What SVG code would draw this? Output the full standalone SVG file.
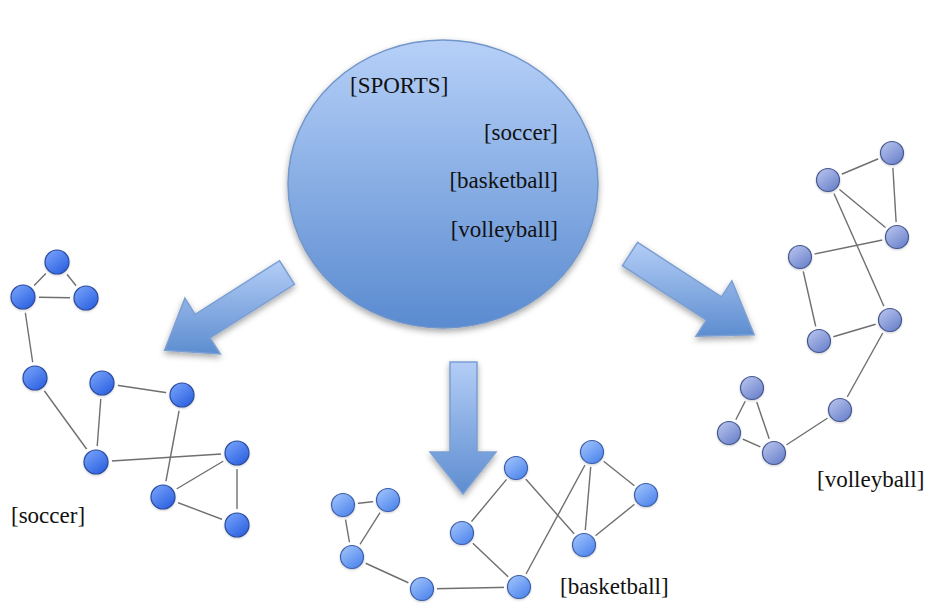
<svg xmlns="http://www.w3.org/2000/svg" width="928" height="603" viewBox="0 0 928 603">
  <defs>
    <linearGradient id="bigFill" x1="0" y1="0" x2="0" y2="1">
      <stop offset="0" stop-color="#b6d0f8"/>
      <stop offset="1" stop-color="#5a8bd0"/>
    </linearGradient>
    <linearGradient id="arrowFill" x1="0" y1="0" x2="0" y2="1">
      <stop offset="0" stop-color="#b3cdf6"/>
      <stop offset="1" stop-color="#5d8dd0"/>
    </linearGradient>
    <linearGradient id="soccerFill" x1="0.2" y1="0.1" x2="0.85" y2="0.95">
      <stop offset="0" stop-color="#6f9cf8"/>
      <stop offset="1" stop-color="#2c60e0"/>
    </linearGradient>
    <linearGradient id="basketFill" x1="0.2" y1="0.1" x2="0.85" y2="0.95">
      <stop offset="0" stop-color="#98bdfa"/>
      <stop offset="1" stop-color="#4d84ec"/>
    </linearGradient>
    <linearGradient id="volleyFill" x1="0.2" y1="0.1" x2="0.85" y2="0.95">
      <stop offset="0" stop-color="#b0bdea"/>
      <stop offset="1" stop-color="#6a82cb"/>
    </linearGradient>
    <filter id="shadow" x="-20%" y="-20%" width="140%" height="150%">
      <feDropShadow dx="0" dy="3" stdDeviation="3" flood-color="#000" flood-opacity="0.35"/>
    </filter>
    <filter id="nodeShadow" x="-30%" y="-30%" width="160%" height="160%">
      <feDropShadow dx="0" dy="1" stdDeviation="1" flood-color="#000" flood-opacity="0.2"/>
    </filter>
  </defs>
  <style>
    .label { font-family: 'Liberation Serif', 'Times New Roman', Times, 'DejaVu Serif', serif; font-size: 23px; fill: #111; }
    .arrow { fill: url(#arrowFill); stroke: #7b9fd3; stroke-width: 1.5; filter: url(#shadow); }
    .edge { stroke: #6f6f6f; stroke-width: 1.4; fill: none; }
    .halo { fill: #fff; }
    .soccer { fill: url(#soccerFill); stroke: #2b4c9e; stroke-width: 1.2; filter: url(#nodeShadow); }
    .basket { fill: url(#basketFill); stroke: #3d5fa8; stroke-width: 1.2; filter: url(#nodeShadow); }
    .volley { fill: url(#volleyFill); stroke: #46588f; stroke-width: 1.2; filter: url(#nodeShadow); }
  </style>

  <rect width="928" height="603" fill="#fff"/>

  <!-- central topic circle -->
  <g id="sports">
    <ellipse cx="443" cy="184" rx="155" ry="144" fill="url(#bigFill)" stroke="#7396c9" stroke-width="1.5" filter="url(#shadow)"/>
    <g class="label">
      <text x="350" y="93">[SPORTS]</text>
      <text x="558" y="140" text-anchor="end">[soccer]</text>
      <text x="558" y="188" text-anchor="end">[basketball]</text>
      <text x="558" y="237" text-anchor="end">[volleyball]</text>
    </g>
  </g>

  <!-- block arrows -->
  <g id="arrows">
    <polygon id="arrow-left" class="arrow" points="279.5,260.7 294.5,284.3 210.1,337.9 220.3,354 164.6,350.2 184.9,298.2 195.1,314.3"/>
    <polygon id="arrow-down" class="arrow" points="450,362 477,362 477,452 496,452 463,494 430,452 450,452"/>
    <polygon id="arrow-right" class="arrow" points="637.6,242.3 721.5,296.8 731.9,280.8 754.2,334.7 695.9,336.2 706.3,320.2 622.4,265.7"/>
  </g>

  <!-- connectors -->
  <g id="connectors" class="edge">
    <!-- soccer -->
    <line x1="57" y1="262" x2="23" y2="297"/>
    <line x1="57" y1="262" x2="86" y2="298"/>
    <line x1="23" y1="297" x2="86" y2="298"/>
    <line x1="23" y1="297" x2="35" y2="378"/>
    <line x1="35" y1="378" x2="96" y2="462"/>
    <line x1="102" y1="383" x2="96" y2="462"/>
    <line x1="102" y1="383" x2="182" y2="395"/>
    <line x1="182" y1="395" x2="163" y2="497"/>
    <line x1="96" y1="462" x2="237" y2="453"/>
    <line x1="237" y1="453" x2="163" y2="497"/>
    <line x1="237" y1="453" x2="237" y2="525"/>
    <line x1="163" y1="497" x2="237" y2="525"/>
    <!-- basketball -->
    <line x1="343" y1="505" x2="388" y2="500"/>
    <line x1="343" y1="505" x2="352" y2="557"/>
    <line x1="388" y1="500" x2="352" y2="557"/>
    <line x1="352" y1="557" x2="422" y2="589"/>
    <line x1="422" y1="589" x2="519" y2="587"/>
    <line x1="519" y1="587" x2="462" y2="533"/>
    <line x1="462" y1="533" x2="516" y2="468"/>
    <line x1="516" y1="468" x2="584" y2="545"/>
    <line x1="519" y1="587" x2="592" y2="452"/>
    <line x1="592" y1="452" x2="584" y2="545"/>
    <line x1="592" y1="452" x2="646" y2="495"/>
    <line x1="646" y1="495" x2="584" y2="545"/>
    <!-- volleyball -->
    <line x1="828" y1="180" x2="892" y2="153"/>
    <line x1="892" y1="153" x2="897" y2="237"/>
    <line x1="828" y1="180" x2="897" y2="237"/>
    <line x1="828" y1="180" x2="890" y2="320"/>
    <line x1="800" y1="257" x2="897" y2="237"/>
    <line x1="800" y1="257" x2="819" y2="341"/>
    <line x1="819" y1="341" x2="890" y2="320"/>
    <line x1="890" y1="320" x2="840" y2="410"/>
    <line x1="840" y1="410" x2="774" y2="453"/>
    <line x1="752" y1="388" x2="729" y2="433"/>
    <line x1="752" y1="388" x2="774" y2="453"/>
    <line x1="729" y1="433" x2="774" y2="453"/>
  </g>

  <!-- soccer nodes -->
  <g id="s1"><circle class="halo" cx="57" cy="262" r="16"/><circle class="soccer" cx="57" cy="262" r="12"/></g>
  <g id="s2"><circle class="halo" cx="23" cy="297" r="16"/><circle class="soccer" cx="23" cy="297" r="12"/></g>
  <g id="s3"><circle class="halo" cx="86" cy="298" r="16"/><circle class="soccer" cx="86" cy="298" r="12"/></g>
  <g id="s4"><circle class="halo" cx="35" cy="378" r="16"/><circle class="soccer" cx="35" cy="378" r="12"/></g>
  <g id="s5"><circle class="halo" cx="102" cy="383" r="16"/><circle class="soccer" cx="102" cy="383" r="12"/></g>
  <g id="s6"><circle class="halo" cx="182" cy="395" r="16"/><circle class="soccer" cx="182" cy="395" r="12"/></g>
  <g id="s7"><circle class="halo" cx="96" cy="462" r="16"/><circle class="soccer" cx="96" cy="462" r="12"/></g>
  <g id="s8"><circle class="halo" cx="237" cy="453" r="16"/><circle class="soccer" cx="237" cy="453" r="12"/></g>
  <g id="s9"><circle class="halo" cx="163" cy="497" r="16"/><circle class="soccer" cx="163" cy="497" r="12"/></g>
  <g id="s10"><circle class="halo" cx="237" cy="525" r="16"/><circle class="soccer" cx="237" cy="525" r="12"/></g>
  <g id="soccer-label" class="label"><text x="11" y="523">[soccer]</text></g>

  <!-- basketball nodes -->
  <g id="b1"><circle class="halo" cx="343" cy="505" r="15"/><circle class="basket" cx="343" cy="505" r="11.5"/></g>
  <g id="b2"><circle class="halo" cx="388" cy="500" r="15"/><circle class="basket" cx="388" cy="500" r="11.5"/></g>
  <g id="b3"><circle class="halo" cx="352" cy="557" r="15"/><circle class="basket" cx="352" cy="557" r="11.5"/></g>
  <g id="b4"><circle class="halo" cx="422" cy="589" r="15"/><circle class="basket" cx="422" cy="589" r="11.5"/></g>
  <g id="b5"><circle class="halo" cx="519" cy="587" r="15"/><circle class="basket" cx="519" cy="587" r="11.5"/></g>
  <g id="b6"><circle class="halo" cx="462" cy="533" r="15"/><circle class="basket" cx="462" cy="533" r="11.5"/></g>
  <g id="b7"><circle class="halo" cx="516" cy="468" r="15"/><circle class="basket" cx="516" cy="468" r="11.5"/></g>
  <g id="b8"><circle class="halo" cx="592" cy="452" r="15"/><circle class="basket" cx="592" cy="452" r="11.5"/></g>
  <g id="b9"><circle class="halo" cx="646" cy="495" r="15"/><circle class="basket" cx="646" cy="495" r="11.5"/></g>
  <g id="b10"><circle class="halo" cx="584" cy="545" r="15"/><circle class="basket" cx="584" cy="545" r="11.5"/></g>
  <g id="basketball-label" class="label"><text x="560" y="594">[basketball]</text></g>

  <!-- volleyball nodes -->
  <g id="v1"><circle class="halo" cx="828" cy="180" r="15"/><circle class="volley" cx="828" cy="180" r="11.5"/></g>
  <g id="v2"><circle class="halo" cx="892" cy="153" r="15"/><circle class="volley" cx="892" cy="153" r="11.5"/></g>
  <g id="v3"><circle class="halo" cx="897" cy="237" r="15"/><circle class="volley" cx="897" cy="237" r="11.5"/></g>
  <g id="v4"><circle class="halo" cx="800" cy="257" r="15"/><circle class="volley" cx="800" cy="257" r="11.5"/></g>
  <g id="v5"><circle class="halo" cx="890" cy="320" r="15"/><circle class="volley" cx="890" cy="320" r="11.5"/></g>
  <g id="v6"><circle class="halo" cx="819" cy="341" r="15"/><circle class="volley" cx="819" cy="341" r="11.5"/></g>
  <g id="v7"><circle class="halo" cx="840" cy="410" r="15"/><circle class="volley" cx="840" cy="410" r="11.5"/></g>
  <g id="v8"><circle class="halo" cx="752" cy="388" r="15"/><circle class="volley" cx="752" cy="388" r="11.5"/></g>
  <g id="v9"><circle class="halo" cx="729" cy="433" r="15"/><circle class="volley" cx="729" cy="433" r="11.5"/></g>
  <g id="v10"><circle class="halo" cx="774" cy="453" r="15"/><circle class="volley" cx="774" cy="453" r="11.5"/></g>
  <g id="volleyball-label" class="label"><text x="817" y="487">[volleyball]</text></g>
</svg>
